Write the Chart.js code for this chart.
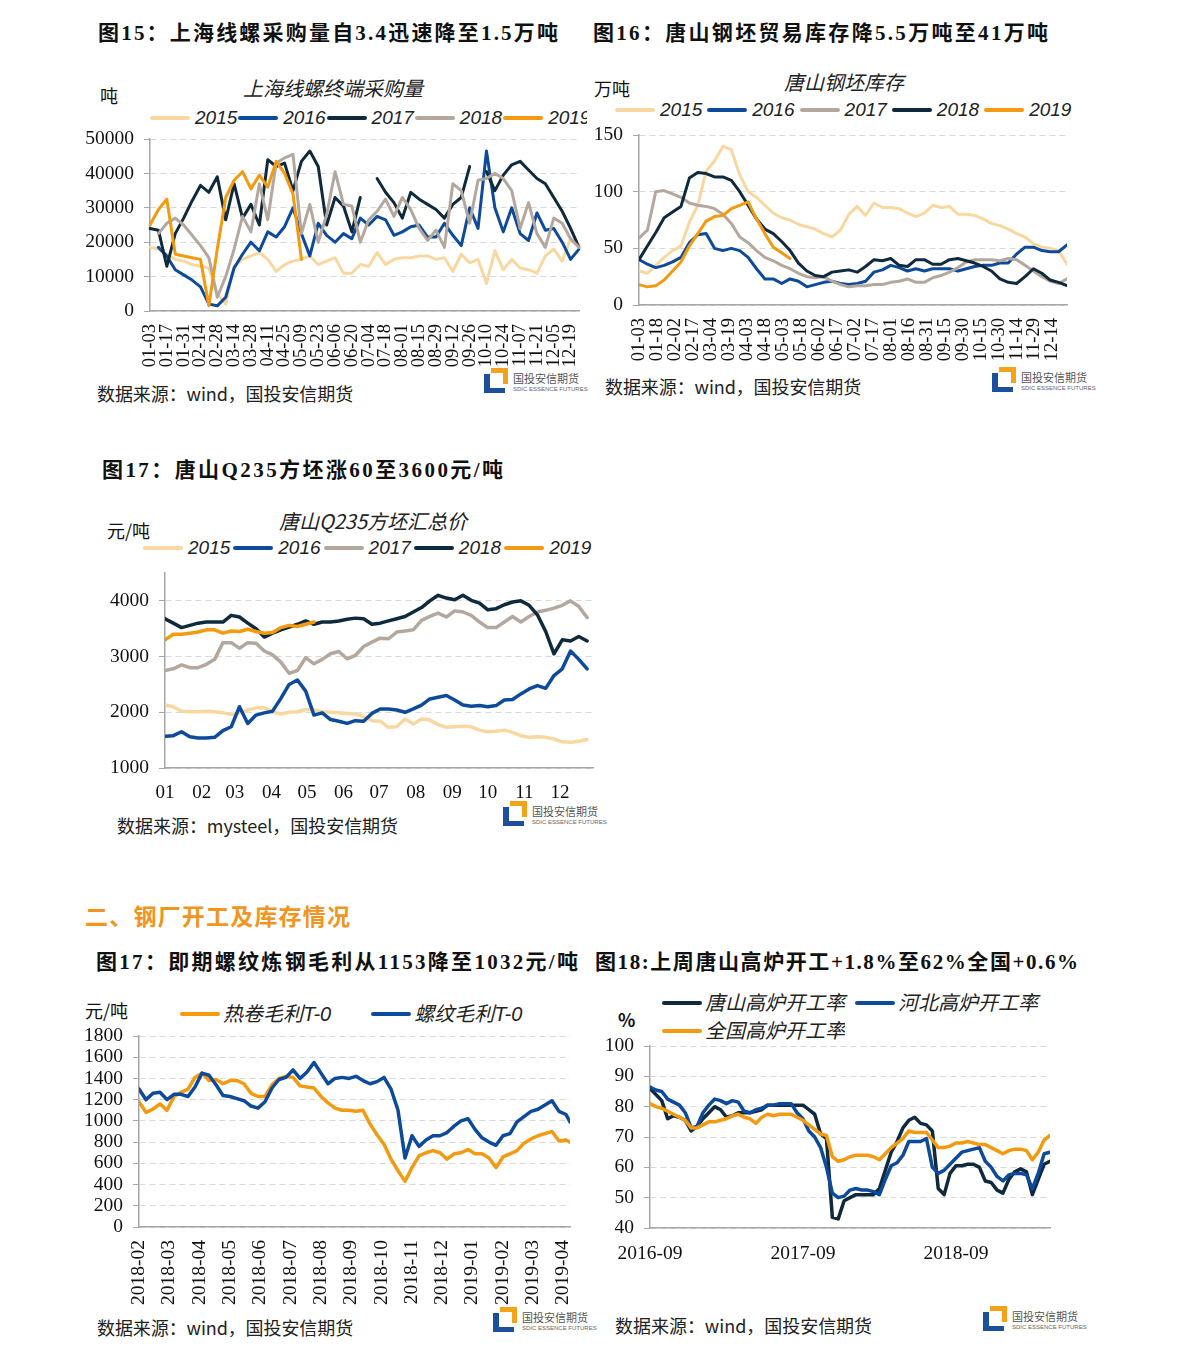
<!DOCTYPE html>
<html lang="zh-CN">
<head>
<meta charset="utf-8">
<title>钢材图表</title>
<script src="https://cdn.jsdelivr.net/npm/chart.js@4.4.1/dist/chart.umd.min.js"></script>
<style>
html,body{margin:0;padding:0;background:#fff;}
body{position:relative;width:1191px;height:1358px;overflow:hidden;font-family:"Noto Sans CJK SC",sans-serif;color:#1a1a1a;}
.t{position:absolute;white-space:nowrap;line-height:1;}
.fig{font-family:"Liberation Serif","Noto Sans CJK SC",serif;font-weight:700;font-size:21px;color:#111;}
.sec{font-weight:700;font-size:23px;color:#F0961E;}
.ct{font-style:italic;font-size:20px;color:#222;}
.unit{font-size:18px;color:#111;}
.src{font-size:18px;color:#222;}
.src .p{font-family:"Noto Sans CJK TC","Noto Sans CJK SC",sans-serif;}
.leg{position:absolute;display:flex;align-items:center;white-space:nowrap;height:24px;overflow:hidden;}
.leg .sw{flex:none;width:40px;height:4px;border-radius:2px;}
.leg .lb{flex:none;font-family:"Liberation Sans","Noto Sans CJK SC",sans-serif;font-style:italic;font-size:19px;color:#222;line-height:24px;}
canvas{position:absolute;}
.logo{position:absolute;width:100px;height:26px;}
.logo .lb1{position:absolute;left:0;top:6px;width:15px;height:14px;border-left:6px solid #1D4F9C;border-bottom:5px solid #1D4F9C;}
.logo .lo1{position:absolute;left:7px;top:0;width:12px;height:11px;border-top:5px solid #F5A21B;border-right:5px solid #F5A21B;}
.logo .ltx{position:absolute;left:29px;top:5px;font-size:11px;color:#555;line-height:1;white-space:nowrap;}
.logo .lsub{position:absolute;left:29px;top:18px;font-size:6px;color:#666;font-family:"Liberation Sans",sans-serif;line-height:1;white-space:nowrap;}
</style>
</head>
<body>
<script>
// ---------------- DATA ----------------
const seriesYears = ['2015', '2016', '2017', '2018', '2019'];

// 图15 上海线螺终端采购量 (吨), weekly
const c1Weeks = ['01-03','01-10','01-17','01-24','01-31','02-07','02-14','02-21','02-28','03-07','03-14','03-21','03-28','04-04','04-11','04-18','04-25','05-02','05-09','05-16','05-23','05-30','06-06','06-13','06-20','06-27','07-04','07-11','07-18','07-25','08-01','08-08','08-15','08-22','08-29','09-05','09-12','09-19','09-26','10-03','10-10','10-17','10-24','10-31','11-07','11-14','11-21','11-28','12-05','12-12','12-19','12-26'];
const c1_2015 = [18500,18000,16500,15000,14500,13500,13000,12500,5000,2000,13000,15000,16000,17000,15000,11500,13500,14500,15000,16000,13500,14500,15500,11000,11000,13500,13000,17000,13500,15000,15500,15500,16000,16000,15000,15500,11500,16500,14000,15000,8000,17500,12000,15000,12500,12000,11000,16000,18000,14500,21000,18500];
const c1_2016 = [null,18500,16000,12000,10500,9000,7000,2000,1500,4000,12500,16500,20000,17500,23000,21500,24500,30000,22500,16000,25500,22000,20000,22500,21000,27000,25000,27500,26500,22000,23000,24500,25000,21500,21500,25500,22000,19000,30000,24000,46500,30000,23000,30000,22500,20500,28500,23500,24000,20000,15000,18000];
const c1_2017 = [24000,23500,13000,22500,27000,32000,36500,34500,39000,26500,37000,27000,31000,25000,44000,42000,43000,35000,43500,46500,42000,25000,33000,30500,23000,33000,null,38500,34500,31500,27000,34500,32500,31000,29500,27000,31000,33000,42000,null,40500,35000,39500,42500,43500,41000,38500,37000,33000,29000,24000,18500];
const c1_2018 = [null,22500,25500,27000,25000,22000,19000,15500,4000,10000,18000,27500,23000,37000,26500,43000,44500,45500,22500,31000,20000,28000,40500,31000,30500,20000,26500,29000,32500,27500,33000,29500,24000,20500,23500,18500,37000,35000,25500,38000,38500,40000,38500,35000,24000,31500,22500,18500,27000,25500,21000,18500];
const c1_2019 = [25000,29500,32500,16500,16000,15500,15000,1500,18000,33000,38000,40500,35500,39500,36000,43500,40000,34000,15000];

// 图16 唐山钢坯库存 (万吨), weekly, tick labels every 15 days
const c2Ticks = ['01-03','01-18','02-02','02-17','03-04','03-19','04-03','04-18','05-03','05-18','06-02','06-17','07-02','07-17','08-01','08-16','08-31','09-15','09-30','10-15','10-30','11-14','11-29','12-14'];
const c2_2015 = [30,28,35,42,48,52,73,88,118,127,140,137,115,100,95,88,81,77,75,71,69,67,63,60,66,80,87,79,90,86,86,85,81,78,81,88,86,87,80,80,79,76,72,70,67,63,60,54,51,50,48,36];
const c2_2016 = [40,36,33,35,38,42,55,62,63,50,48,50,48,42,32,23,23,19,23,21,16,18,20,21,19,18,19,21,29,31,35,33,30,32,30,32,32,32,30,32,34,35,35,37,37,45,51,51,48,47,47,53];
const c2_2017 = [59,66,100,101,98,95,90,88,87,85,80,72,60,55,48,42,39,35,32,28,25,24,25,21,18,16,17,17,18,18,20,21,23,20,20,24,26,29,33,38,40,40,40,39,41,40,35,30,25,21,19,23];
const c2_2018 = [40,52,64,77,82,87,112,117,116,113,113,110,100,88,76,67,63,56,48,37,30,26,25,29,30,31,29,34,40,39,41,35,34,40,40,36,36,40,41,39,37,34,30,23,20,19,25,32,28,22,20,17];
const c2_2019 = [18,16,17,22,30,38,52,63,74,78,79,85,88,91,76,63,51,46,41];

// 图17 唐山Q235方坯汇总价 (元/吨), weekly
const c3Months = ['01','02','03','04','05','06','07','08','09','10','11','12'];
const c3MonthDays = [0,31,59,90,120,151,181,212,243,273,304,334];
const c3YTicks = [1000, 2000, 3000, 4000];
const c3_2015 = [2130,2100,2020,2010,2010,2020,2010,1990,1960,1990,2040,2080,2080,2010,1970,2000,2010,2050,2040,2010,2000,1990,1980,1970,1920,1850,1840,1730,1740,1880,1790,1880,1860,1780,1730,1740,1750,1740,1680,1650,1660,1680,1640,1580,1550,1560,1550,1520,1470,1460,1480,1510];
const c3_2016 = [1570,1580,1650,1560,1540,1540,1550,1670,1740,2100,1800,1950,1990,2020,2250,2500,2580,2380,1950,1990,1870,1840,1800,1850,1840,1980,2060,2060,2040,2000,2060,2130,2240,2270,2300,2220,2130,2110,2120,2100,2120,2220,2230,2330,2420,2480,2430,2660,2780,3100,2950,2780];
const c3_2017 = [2750,2780,2850,2800,2800,2860,2950,3250,3250,3150,3250,3240,3100,3030,2900,2700,2750,2980,2870,2950,3050,3090,2960,3020,3180,3260,3330,3320,3440,3460,3480,3650,3720,3780,3710,3820,3800,3740,3620,3520,3520,3620,3720,3620,3720,3800,3830,3870,3920,4000,3900,3700];
const c3_2018 = [3680,3600,3520,3560,3600,3620,3620,3620,3740,3710,3600,3500,3350,3420,3480,3530,3580,3640,3580,3620,3620,3640,3670,3690,3680,3580,3600,3640,3680,3720,3800,3880,4000,4100,4050,4020,4100,4010,3960,3840,3860,3930,3980,4000,3920,3750,3450,3050,3300,3280,3360,3280];
const c3_2019 = [3300,3400,3400,3420,3440,3480,3480,3420,3460,3450,3490,3450,3420,3430,3520,3560,3540,3580,3620];

// 图17 即期毛利 (元/吨), weekly from 2018-02
const c4Months = ['2018-02','2018-03','2018-04','2018-05','2018-06','2018-07','2018-08','2018-09','2018-10','2018-11','2018-12','2019-01','2019-02','2019-03','2019-04'];
const c4Names = ['热卷毛利T-0', '螺纹毛利T-0'];
const c4_hrc = [1180,1080,1110,1160,1100,1230,1270,1300,1410,1450,1380,1390,1350,1380,1380,1350,1260,1230,1230,1340,1400,1420,1410,1330,1320,1310,1230,1170,1120,1100,1100,1090,1100,970,870,780,640,530,430,560,670,700,720,700,640,690,700,730,690,690,650,560,660,690,720,790,830,860,880,900,810,820,800];
const c4_rebar = [1300,1200,1260,1270,1200,1250,1250,1230,1320,1450,1430,1340,1240,1230,1210,1190,1140,1120,1180,1310,1390,1410,1480,1400,1460,1550,1450,1350,1400,1410,1400,1420,1380,1350,1370,1410,1300,1100,650,860,760,820,860,860,890,950,1000,1020,920,840,800,770,860,880,990,1040,1090,1110,1150,1190,1090,1060,990];

// 图18 高炉开工率 (%), every two weeks from 2016-09
const c5Names = ['唐山高炉开工率', '河北高炉开工率', '全国高炉开工率'];
const c5TickLabels = ['2016-09', '2017-09', '2018-09'];
const c5_ts = [86,84,82,76,77,76.5,75.5,72,73.5,76,78,80,79,76.5,77,78,78,78,78.5,79,80.5,80.5,80.5,80.5,80.5,80.5,80.5,79,77.5,71,69.5,43.5,43,49,50,51,51,51,51,53,59,65,68.5,73,75.5,76.5,74.5,74,72,53,51,58,60.5,60.5,61,61,60,55.5,55,52.5,51.5,56,58.5,59.5,58.5,51,56,61,62];
const c5_hb = [86.5,85.5,85,82.5,81.5,80.5,78,73,73.5,78,80.5,82.5,82,81,82,81.5,78.5,78,79,79.5,80.5,80.5,81,81,81,78,76,72,70,66.5,60,51.5,50,50.5,52.5,53,52.5,52.5,52,51,56,60.5,61.5,64,68.5,68.5,68.5,69.5,60,58,59,61,63,65,65.5,66,66.5,62,60,57,55.5,57.5,58,58,57.5,53,58,64.5,65];
const c5_nat = [81,80,79.5,78.5,77.5,76.5,75.5,73,73,74,75,75,75.5,76,77,77.5,76.5,76,74.5,76.5,77.5,77,77.5,77.5,77.5,76.5,75.5,74,72.5,71,70.5,63.5,62,62.5,63.5,64,64,64,63.5,62.5,64.5,66.5,68,69.5,72,71.5,71.5,71.5,69,66.5,66.5,67,68,68,68.5,68,67.5,67.5,66.5,65.5,64.5,65.5,66,66,65.5,62.5,65,69,70.5];

// ---------------- STYLE ----------------
const COL = {beige:'#F8D8A0', blue:'#0D4A9A', navy:'#0F2A3D', gray:'#B4A89E', orange:'#F39A10'};
const SERIF = '"Liberation Serif", "Times New Roman", serif';
const yFont = {family:SERIF, size:19.5};
const AXIS = '#A6A6A6';

function ds(label, data, color, width) {
  return {label, data, borderColor:color, backgroundColor:color, borderWidth:width, pointRadius:0,
          pointHoverRadius:0, tension:0, fill:false, borderJoinStyle:'round', borderCapStyle:'round', spanGaps:false};
}
function stackOrder(list) { list.forEach((d, i) => { d.order = list.length - i; }); return list; }
function zeroPad(s) { s.paddingTop = 0; s.paddingBottom = 0; s.paddingLeft = 0; s.paddingRight = 0; }

function yAxis(min, max, step, w, fixedTicks) {
  return {
    type:'linear', min, max, position:'left',
    ticks:{stepSize:step, font:yFont, color:'#111', padding:10, autoSkip:false, callback: v => String(v)},
    grid:{color:'#D9D9D9', lineWidth:1, drawTicks:true, tickLength:6, tickColor:AXIS, tickWidth:1, tickBorderDash:[]},
    border:{display:true, color:AXIS, width:1.5, dash:[6,4]},
    afterBuildTicks: s => { if (fixedTicks) s.ticks = fixedTicks.map(v => ({value:v})); },
    afterFit: s => { s.width = w; zeroPad(s); }
  };
}
function xCategory(labels, rot, pad, h, every, fsize) {
  return {
    type:'category', labels,
    grid:{display:false, drawTicks:false}, border:{display:true, color:AXIS, width:1.5},
    ticks:{autoSkip:false, minRotation:rot, maxRotation:rot, padding:pad, font:{family:SERIF, size:fsize}, color:'#111',
           callback:(v, i) => (i % every === 0 ? labels[i] : '')},
    afterFit: s => { s.height = h; zeroPad(s); }
  };
}
function xLinear(min, max, tickVals, tickLabels, rot, pad, h, fsize) {
  return {
    type:'linear', min, max,
    grid:{display:false, drawTicks:false}, border:{display:true, color:AXIS, width:1.5},
    afterBuildTicks: s => { s.ticks = tickVals.map(v => ({value:v})); },
    ticks:{autoSkip:false, minRotation:rot, maxRotation:rot, padding:pad, font:{family:SERIF, size:fsize}, color:'#111',
           callback: v => { const k = tickVals.indexOf(v); return k >= 0 ? tickLabels[k] : ''; }},
    afterFit: s => { s.height = h; zeroPad(s); }
  };
}
// canvas box + plot area (page coordinates)
function makeChart(box, plot, type, data, xs, ys) {
  const c = document.createElement('canvas');
  c.width = box.w; c.height = box.h;
  c.style.left = box.x + 'px'; c.style.top = box.y + 'px';
  c.style.width = box.w + 'px'; c.style.height = box.h + 'px';
  document.body.appendChild(c);
  return new Chart(c, {
    type, data,
    options:{
      responsive:false, animation:false, devicePixelRatio:1, events:[],
      layout:{padding:{left:0, top:plot.T - box.y, right:box.x + box.w - plot.R, bottom:0}},
      plugins:{legend:{display:false}, tooltip:{enabled:false}, title:{display:false}},
      scales:{x:xs, y:ys}
    }
  });
}
const xy = (xsArr, ys) => ys.map((v, i) => ({x:xsArr[i], y:v}));

// ---------------- TEXT HELPERS ----------------
function addText(cls, text, x, yc, opt = {}) {
  const d = document.createElement('div');
  d.className = 't ' + cls;
  if (opt.punct) {
    [...text].forEach(ch => {
      if ('：，'.includes(ch)) { const s = document.createElement('span'); s.className = 'p'; s.textContent = ch; d.appendChild(s); }
      else d.appendChild(document.createTextNode(ch));
    });
  } else d.textContent = text;
  if (opt.size) d.style.fontSize = opt.size + 'px';
  document.body.appendChild(d);
  if (opt.width) {
    const w0 = d.getBoundingClientRect().width;
    const n = [...text].length;
    d.style.letterSpacing = ((opt.width - w0) / (n - 1)) + 'px';
  }
  const r = d.getBoundingClientRect();
  d.style.top = (yc - r.height / 2) + 'px';
  d.style.left = (opt.center ? x - r.width / 2 : x) + 'px';
  return d;
}
function addLegend(x, yc, items, ml, mr, opt = {}) {
  const d = document.createElement('div'); d.className = 'leg';
  d.style.left = x + 'px'; d.style.top = (yc - 12) + 'px';
  if (opt.maxW) d.style.width = opt.maxW + 'px';
  items.forEach(([name, color]) => {
    const s = document.createElement('span'); s.className = 'sw'; s.style.background = color;
    const l = document.createElement('span'); l.className = 'lb'; l.textContent = name;
    l.style.marginLeft = ml + 'px'; l.style.marginRight = mr + 'px';
    if (opt.size) l.style.fontSize = opt.size + 'px';
    d.append(s, l);
  });
  document.body.appendChild(d);
}
function addLogo(x, y) {
  const d = document.createElement('div'); d.className = 'logo';
  d.style.left = x + 'px'; d.style.top = y + 'px';
  d.innerHTML = '<div class="lb1"></div><div class="lo1"></div><div class="ltx">国投安信期货</div><div class="lsub">SDIC ESSENCE FUTURES</div>';
  document.body.appendChild(d);
}

// ---------------- PAGE TEXT ----------------
addText('fig', '图15：上海线螺采购量自3.4迅速降至1.5万吨', 98, 33, {width:460});
addText('fig', '图16：唐山钢坯贸易库存降5.5万吨至41万吨', 593, 33, {width:455});
addText('fig', '图17：唐山Q235方坯涨60至3600元/吨', 102, 470, {width:401});
addText('sec', '二、钢厂开工及库存情况', 85, 915, {width:265});
addText('fig', '图17：即期螺纹炼钢毛利从1153降至1032元/吨', 96, 962, {width:482});
addText('fig', '图18:上周唐山高炉开工+1.8%至62%全国+0.6%', 595, 962, {width:483});

addText('ct', '上海线螺终端采购量', 333, 88, {center:true});
addText('ct', '唐山钢坯库存', 844, 82, {center:true});
addText('ct', '唐山Q235方坯汇总价', 373, 521, {center:true});

addText('unit', '吨', 100, 95);
addText('unit', '万吨', 594, 88);
addText('unit', '元/吨', 107, 530);
addText('unit', '元/吨', 85, 1010);
addText('unit', '%', 618, 1019).style.fontWeight = '700';

addText('src', '数据来源：wind，国投安信期货', 97, 393, {punct:true, width:256});
addText('src', '数据来源：wind，国投安信期货', 605, 386, {punct:true, width:256});
addText('src', '数据来源：mysteel，国投安信期货', 117, 825, {punct:true, width:281});
addText('src', '数据来源：wind，国投安信期货', 97, 1327, {punct:true, width:256});
addText('src', '数据来源：wind，国投安信期货', 615, 1325, {punct:true, width:257});

addLogo(484, 368);
addLogo(992, 367);
addLogo(503, 801);
addLogo(493, 1307);
addLogo(983, 1306);

// legends
const colsA = [COL.beige, COL.blue, COL.navy, COL.gray, COL.orange];   // 图15
const colsB = [COL.beige, COL.blue, COL.gray, COL.navy, COL.orange];   // 图16, 图17
addLegend(150, 118, seriesYears.map((y, i) => [y, colsA[i]]), 5, 1, {maxW:437});
addLegend(615, 110, seriesYears.map((y, i) => [y, colsB[i]]), 5, 5);
addLegend(143, 548, seriesYears.map((y, i) => [y, colsB[i]]), 5, 3);
addLegend(180, 1014, [[c4Names[0], COL.orange], [c4Names[1], COL.blue]], 3, 40, {size:20});
addLegend(662, 1003, [[c5Names[0], COL.navy], [c5Names[1], COL.blue]], 3, 10, {size:20});
addLegend(662, 1031, [[c5Names[2], COL.orange]], 3, 0, {size:20});

// ---------------- CHARTS ----------------
// 图15
makeChart({x:80, y:127, w:510, h:253}, {L:150, R:579, T:139, B:311}, 'line',
  {labels:c1Weeks, datasets:stackOrder([
    ds('2015', c1_2015, COL.beige, 3), ds('2016', c1_2016, COL.blue, 3), ds('2017', c1_2017, COL.navy, 3),
    ds('2018', c1_2018, COL.gray, 3), ds('2019', c1_2019, COL.orange, 3)])},
  xCategory(c1Weeks, 90, 13, 380 - 311, 2, 18.5),
  yAxis(0, 50000, 10000, 150 - 80));

// 图16
const c2TickDays = c2Ticks.map((_, i) => i * 15);
const c2Days = c2_2015.map((_, i) => i * 7);
makeChart({x:590, y:123, w:500, h:245}, {L:639, R:1067, T:135, B:305}, 'line',
  {datasets:stackOrder([
    ds('2015', xy(c2Days, c2_2015), COL.beige, 3), ds('2016', xy(c2Days, c2_2016), COL.blue, 3),
    ds('2017', xy(c2Days, c2_2017), COL.gray, 3), ds('2018', xy(c2Days, c2_2018), COL.navy, 3),
    ds('2019', xy(c2Days, c2_2019), COL.orange, 3)])},
  xLinear(0, 357, c2TickDays, c2Ticks, 90, 13, 368 - 305, 18.5),
  yAxis(0, 150, 50, 639 - 590));

// 图17 Q235
const c3Days = c3_2015.map((_, i) => i * 7);
makeChart({x:90, y:561, w:520, h:245}, {L:165, R:593, T:573, B:768}, 'line',
  {datasets:stackOrder([
    ds('2015', xy(c3Days, c3_2015), COL.beige, 3.5), ds('2016', xy(c3Days, c3_2016), COL.blue, 3.5),
    ds('2017', xy(c3Days, c3_2017), COL.gray, 3.5), ds('2018', xy(c3Days, c3_2018), COL.navy, 3.5),
    ds('2019', xy(c3Days, c3_2019), COL.orange, 3.5)])},
  xLinear(0, 362, c3MonthDays, c3Months, 0, 14, 806 - 768, 19),
  yAxis(1000, 4500, 1000, 165 - 90, c3YTicks));

// 图17 毛利
const c4Days = c4_hrc.map((_, i) => (i < c4_hrc.length - 1 ? i * 7 : 431));
const c4TickDays = c4Months.map((_, i) => i * 30.3);
makeChart({x:75, y:1024, w:515, h:286}, {L:139, R:570, T:1036, B:1227}, 'line',
  {datasets:stackOrder([
    ds(c4Names[0], xy(c4Days, c4_hrc), COL.orange, 3.5), ds(c4Names[1], xy(c4Days, c4_rebar), COL.blue, 3.5)])},
  xLinear(0, 431, c4TickDays, c4Months, 90, 13, 1310 - 1227, 19.5),
  yAxis(0, 1800, 200, 139 - 75));

// 图18
const c5Weeks = c5_ts.map((_, i) => i * 2);
makeChart({x:590, y:1034, w:480, h:240}, {L:650, R:1050, T:1046, B:1228}, 'line',
  {datasets:stackOrder([
    ds(c5Names[0], xy(c5Weeks, c5_ts), COL.navy, 3.5), ds(c5Names[1], xy(c5Weeks, c5_hb), COL.blue, 3.5),
    ds(c5Names[2], xy(c5Weeks, c5_nat), COL.orange, 3.5)])},
  xLinear(0, 136, [0, 52, 104], c5TickLabels, 0, 14, 1274 - 1228, 19.5),
  yAxis(40, 100, 10, 650 - 590));
</script>
</body>
</html>
